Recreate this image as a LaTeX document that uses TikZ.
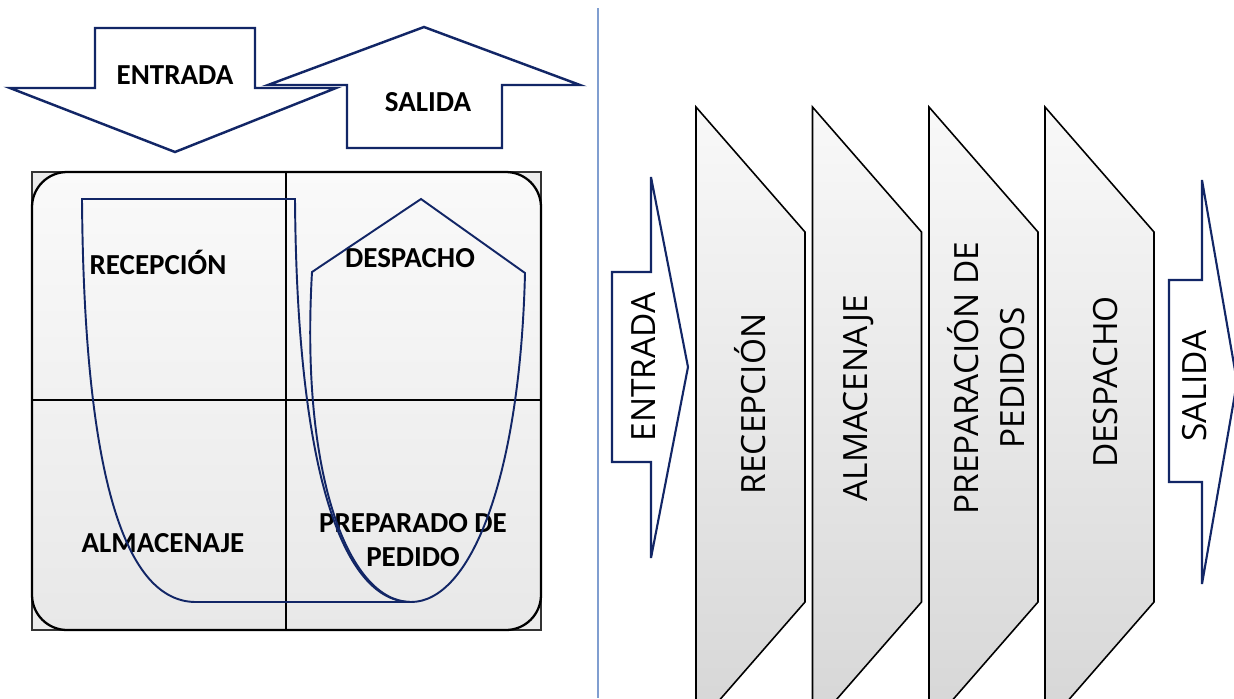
\documentclass[tikz,border=0pt]{standalone}
\usepackage{fontspec}
\setmainfont{Carlito}
\newfontfamily\opensans{Open Sans}
\usetikzlibrary{positioning,calc}
\definecolor{flowblue}{RGB}{18,38,102}
\definecolor{sepblue}{RGB}{128,158,208}

\begin{document}
\begin{tikzpicture}[x=0.02cm,y=-0.02cm]
        \tikzstyle{every node}=[font=\bfseries\fontsize{16.5}{19}\selectfont,inner sep=0pt]
        \tikzstyle{bigarrow}=[draw=flowblue,line width=1.2pt,fill=white,line join=miter]
        \tikzstyle{stage}=[draw=black,line width=0.9pt,top color=gray!5,bottom color=gray!32]
        \tikzstyle{stagetext}=[font=\opensans\fontsize{19}{26}\selectfont,rotate=90,align=center]
        \tikzstyle{flowline}=[draw=flowblue,line width=1.1pt]

        \useasboundingbox (0,0) rectangle (1234,698);
        \clip (0,0) rectangle (1234,698);

        %%% Left: layout
        \begin{scope}
            \draw[bigarrow,line width=1.4pt] (95,28) -- (255,28) -- (255,88) -- (336,88) -- (175,152)
                -- (10,88) -- (95,88) -- cycle;
            \node (entrada) at (175,75) {ENTRADA};
            \draw[bigarrow,line width=1.4pt] (347,148) -- (502,148) -- (502,85) -- (580,85) -- (424,27)
                -- (268,85) -- (347,85) -- cycle;
            \node (salida) at (428,102) {SALIDA};

            \draw[black!80,line width=0.6pt,fill=gray!15] (32,172) rectangle (541,630);
            \draw[line width=1.3pt,top color=gray!4,bottom color=gray!18,rounded corners=20pt]
                (32,172) rectangle (541,630);
            \draw[line width=1.3pt] (286,172) -- (286,630);
            \draw[line width=1.3pt] (32,400) -- (541,400);

            \node (recep) at (158,262) {RECEPCIÓN};
            \node (desp) at (410,258) {DESPACHO};
            \node (almac) at (163,543) {ALMACENAJE};
            \node[align=center] (prep) at (413,540) {PREPARADO DE\\PEDIDO};

            \draw[flowline] (196,602) .. controls (126,602) and (84,480) .. (82,199)
                -- (295,199) .. controls (297,480) and (345,602) .. (411,602) -- cycle;
            \draw[flowline] (411,602) .. controls (350,602) and (300,480) .. (312,272)
                -- (421,199) -- (525,273) .. controls (520,480) and (470,602) .. (411,602);
        \end{scope}

        \draw[sepblue,line width=1pt] (598,8) -- (598,698);

        %%% Right: flow
        \begin{scope}
            \draw[bigarrow] (612,272) -- (651,272) -- (651,177) -- (688,367) -- (651,558)
                -- (651,462) -- (612,462) -- cycle;
            \node[stagetext] (entr2) at (644,367) {ENTRADA};

            \foreach \x in {696,812.5,929,1045} {
                \draw[stage] (\x,107) -- ($(\x,232)+(109,0)$) -- ($(\x,602)+(109,0)$)
                    -- (\x,727) -- cycle;
            }
            \node[stagetext] (recep2) at (750,404) {RECEPCIÓN};
            \node[stagetext] (almac2) at (859,398) {ALMACENAJE};
            \node[stagetext] (prep2) at (986,378) {PREPARACIÓN DE\\PEDIDOS};
            \node[stagetext] (desp2) at (1106,382) {DESPACHO};

            \draw[bigarrow] (1169,280) -- (1202,280) -- (1202,180) -- (1237,382) -- (1202,584)
                -- (1202,482) -- (1169,482) -- cycle;
            \node[stagetext] (sal2) at (1195,386) {SALIDA};
        \end{scope}
\end{tikzpicture}
\end{document}
